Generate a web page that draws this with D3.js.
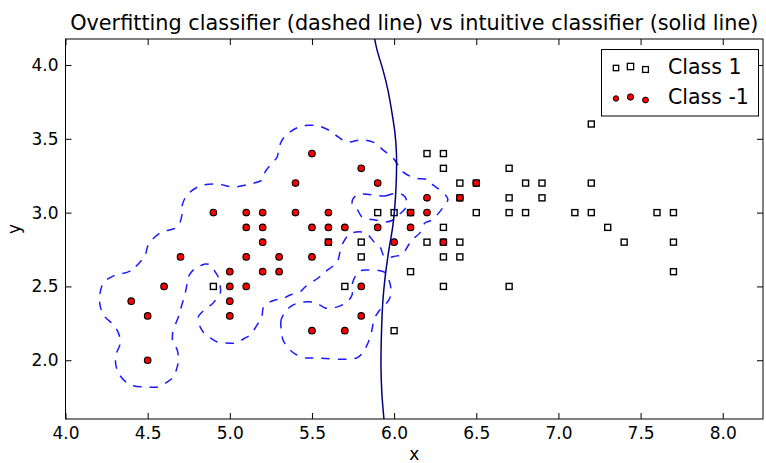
<!DOCTYPE html>
<html>
<head>
<meta charset="utf-8">
<script src="https://cdn.jsdelivr.net/npm/d3@7"></script>
<style>
  body { margin: 0; background: #fff; }
  svg { display: block; }
  text { font-family: "DejaVu Sans", sans-serif; fill: #000; }
</style>
</head>
<body>
<svg id="chart" width="766" height="463"></svg>
<script>
// Tick values
const xTicks = [4.0, 4.5, 5.0, 5.5, 6.0, 6.5, 7.0, 7.5, 8.0];
const yTicks = [2.0, 2.5, 3.0, 3.5, 4.0];

// Class 1 samples (sepal length, sepal width)
const class1 = [
  [7.2, 3.6],
  [6.2, 3.4], [6.3, 3.4],
  [6.3, 3.3], [6.7, 3.3],
  [6.4, 3.2], [6.5, 3.2], [6.8, 3.2], [6.9, 3.2], [7.2, 3.2],
  [6.4, 3.1], [6.7, 3.1], [6.9, 3.1],
  [5.9, 3.0], [6.0, 3.0], [6.1, 3.0], [6.5, 3.0], [6.7, 3.0], [6.8, 3.0],
  [7.1, 3.0], [7.2, 3.0], [7.6, 3.0], [7.7, 3.0],
  [6.3, 2.9], [7.3, 2.9],
  [5.6, 2.8], [5.8, 2.8], [6.2, 2.8], [6.3, 2.8], [6.4, 2.8], [7.4, 2.8], [7.7, 2.8],
  [5.8, 2.7], [6.3, 2.7], [6.4, 2.7],
  [6.1, 2.6], [7.7, 2.6],
  [4.9, 2.5], [5.7, 2.5], [6.3, 2.5], [6.7, 2.5],
  [6.0, 2.2]
];

// Class -1 samples
const classNeg1 = [
  [5.5, 3.4],
  [5.8, 3.3],
  [5.4, 3.2], [5.9, 3.2], [6.5, 3.2],
  [6.2, 3.1], [6.4, 3.1],
  [4.9, 3.0], [5.1, 3.0], [5.2, 3.0], [5.4, 3.0], [5.6, 3.0], [6.1, 3.0], [6.2, 3.0],
  [5.1, 2.9], [5.2, 2.9], [5.5, 2.9], [5.6, 2.9], [5.7, 2.9], [5.9, 2.9], [6.1, 2.9],
  [5.2, 2.8], [5.6, 2.8], [6.0, 2.8], [6.3, 2.8],
  [4.7, 2.7], [5.1, 2.7], [5.3, 2.7], [5.5, 2.7],
  [5.0, 2.6], [5.2, 2.6], [5.3, 2.6],
  [4.6, 2.5], [5.0, 2.5], [5.1, 2.5], [5.8, 2.5],
  [4.4, 2.4], [5.0, 2.4],
  [4.5, 2.3], [5.0, 2.3], [5.8, 2.3],
  [5.5, 2.2], [5.7, 2.2],
  [4.5, 2.0]
];

// Overfitting classifier: zero-level contour, main region outline
const overfitOuter = [
  [4.474, 2.693], [4.395, 2.605], [4.292, 2.571], [4.231, 2.524], [4.207, 2.408],
  [4.231, 2.306], [4.304, 2.225], [4.334, 2.124], [4.304, 2.022], [4.322, 1.914],
  [4.395, 1.833], [4.504, 1.819], [4.565, 1.819], [4.620, 1.853], [4.656, 1.887],
  [4.680, 1.955], [4.687, 2.002], [4.680, 2.070], [4.656, 2.117], [4.650, 2.157],
  [4.656, 2.205], [4.687, 2.293], [4.699, 2.340], [4.717, 2.408], [4.729, 2.456],
  [4.741, 2.524], [4.747, 2.564], [4.778, 2.612], [4.808, 2.632], [4.851, 2.652],
  [4.881, 2.645], [4.911, 2.598], [4.930, 2.564], [4.942, 2.496], [4.942, 2.456],
  [4.899, 2.388], [4.869, 2.361], [4.832, 2.327], [4.808, 2.293], [4.820, 2.225],
  [4.838, 2.191], [4.881, 2.151], [4.923, 2.124], [4.972, 2.117], [5.033, 2.117],
  [5.094, 2.151], [5.124, 2.171], [5.166, 2.239], [5.185, 2.273], [5.197, 2.306],
  [5.203, 2.354], [5.233, 2.388], [5.276, 2.408], [5.318, 2.415], [5.367, 2.442],
  [5.428, 2.463], [5.458, 2.496], [5.537, 2.557], [5.580, 2.598], [5.653, 2.666],
  [5.671, 2.734], [5.689, 2.795], [5.731, 2.856], [5.804, 2.869], [5.841, 2.849],
  [5.883, 2.795], [5.914, 2.767], [5.944, 2.700], [6.017, 2.707], [6.047, 2.713],
  [6.084, 2.774], [6.108, 2.815], [6.157, 2.863], [6.187, 2.930], [6.230, 2.950],
  [6.296, 3.032], [6.327, 3.086], [6.321, 3.107], [6.278, 3.154], [6.236, 3.188],
  [6.205, 3.222], [6.126, 3.235], [6.053, 3.276], [6.023, 3.323], [5.993, 3.371],
  [5.932, 3.425], [5.883, 3.472], [5.804, 3.493], [5.713, 3.479], [5.659, 3.513],
  [5.610, 3.554], [5.537, 3.587], [5.440, 3.587], [5.367, 3.547], [5.324, 3.500],
  [5.300, 3.445], [5.288, 3.377], [5.258, 3.337], [5.215, 3.276], [5.197, 3.222],
  [5.124, 3.194], [5.021, 3.174], [4.923, 3.194], [4.820, 3.181], [4.741, 3.120],
  [4.711, 3.052], [4.711, 2.998], [4.680, 2.903], [4.577, 2.863], [4.504, 2.781],
  [4.486, 2.713]
];

// Overfitting classifier: hole around two class 1 samples
const overfitHole = [
  [5.774, 3.120], [5.944, 3.113], [5.993, 3.127], [6.041, 3.127], [6.066, 3.107],
  [6.078, 3.066], [6.066, 3.025], [6.035, 2.991], [5.993, 2.950], [5.950, 2.937],
  [5.883, 2.950], [5.841, 2.957], [5.804, 2.971], [5.774, 3.025], [5.744, 3.066]
];

// Overfitting classifier: separate island in the lower middle
const overfitIsland = [
  [5.337, 2.327], [5.312, 2.273], [5.312, 2.218], [5.324, 2.137], [5.355, 2.083],
  [5.397, 2.043], [5.458, 2.016], [5.507, 2.016], [5.774, 2.016], [5.810, 2.056],
  [5.841, 2.117], [5.865, 2.205], [5.877, 2.273], [5.908, 2.334], [5.950, 2.381],
  [5.974, 2.422], [5.981, 2.476], [5.968, 2.544], [5.938, 2.598], [5.841, 2.612],
  [5.792, 2.605], [5.762, 2.564], [5.744, 2.510], [5.744, 2.442], [5.713, 2.395],
  [5.671, 2.368], [5.628, 2.354], [5.580, 2.354], [5.537, 2.381], [5.501, 2.395],
  [5.416, 2.388], [5.367, 2.361]
];

// Intuitive classifier: smooth boundary
const intuitiveBoundary = [
  [5.871, 4.238], [5.896, 4.102], [5.932, 3.967], [5.962, 3.831], [5.987, 3.675],
  [6.005, 3.540], [6.014, 3.404], [6.014, 3.255], [6.008, 3.100], [5.993, 2.917],
  [5.968, 2.747], [5.947, 2.578], [5.932, 2.408], [5.923, 2.185], [5.920, 1.955],
  [5.926, 1.765], [5.938, 1.602], [5.944, 1.527]
];

const legendLabels = ["Class 1", "Class -1"];

// ---- layout ----
const plotLeft = 65.5, plotRight = 763, plotTop = 39, plotBottom = 419;
const x = d3.scaleLinear().domain([4.0, 8.245]).range([plotLeft, plotRight]);
const y = d3.scaleLinear().domain([1.602, 4.176]).range([plotBottom, plotTop]);

const svg = d3.select("#chart");

svg.append("defs").append("clipPath").attr("id", "plotClip")
  .append("rect")
  .attr("x", plotLeft).attr("y", plotTop)
  .attr("width", plotRight - plotLeft).attr("height", plotBottom - plotTop);

// Title
svg.append("text")
  .attr("x", (plotLeft + plotRight) / 2)
  .attr("y", 30)
  .attr("text-anchor", "middle")
  .style("font-size", "20.8px")
  .text("Overfitting classifier (dashed line) vs intuitive classifier (solid line)");

const plot = svg.append("g").attr("clip-path", "url(#plotClip)");

// Class 1 markers: open squares
const sq = 6;
plot.append("g").selectAll("rect")
  .data(class1)
  .join("rect")
  .attr("x", d => x(d[0]) - sq / 2)
  .attr("y", d => y(d[1]) - sq / 2)
  .attr("width", sq).attr("height", sq)
  .attr("fill", "#fff")
  .attr("stroke", "#000")
  .attr("stroke-width", 1.4);

// Class -1 markers: red dots
plot.append("g").selectAll("circle")
  .data(classNeg1)
  .join("circle")
  .attr("cx", d => x(d[0]))
  .attr("cy", d => y(d[1]))
  .attr("r", 3.3)
  .attr("fill", "#ff0000")
  .attr("stroke", "#000")
  .attr("stroke-width", 1.1);

// Overfitting decision boundary (dashed)
const closedLine = d3.line()
  .x(d => x(d[0])).y(d => y(d[1]))
  .curve(d3.curveCatmullRomClosed.alpha(0.5));
[overfitOuter, overfitHole, overfitIsland].forEach(c => {
  plot.append("path")
    .attr("d", closedLine(c))
    .attr("fill", "none")
    .attr("stroke", "#1a1aff")
    .attr("stroke-width", 1.5)
    .attr("stroke-dasharray", "8.5,8");
});

// Intuitive decision boundary (solid)
plot.append("path")
  .attr("d", d3.line().x(d => x(d[0])).y(d => y(d[1]))
    .curve(d3.curveCatmullRom.alpha(0.5))(intuitiveBoundary))
  .attr("fill", "none")
  .attr("stroke", "#000080")
  .attr("stroke-width", 1.5);

// Axes: ticks pointing inward on all four sides
const tickLen = 6;
const styleAxis = g => {
  g.select(".domain").remove();
  g.selectAll(".tick line").attr("stroke", "#000").attr("stroke-width", 1);
  g.selectAll(".tick text").style("font-size", "17px").attr("fill", "#000");
};
svg.append("g").attr("transform", `translate(0,${plotBottom})`)
  .call(d3.axisBottom(x).tickValues(xTicks).tickFormat(d3.format(".1f"))
    .tickSize(-tickLen).tickPadding(8))
  .call(styleAxis);
svg.append("g").attr("transform", `translate(${plotLeft},0)`)
  .call(d3.axisLeft(y).tickValues(yTicks).tickFormat(d3.format(".1f"))
    .tickSize(-tickLen).tickPadding(7))
  .call(styleAxis);
svg.append("g").attr("transform", `translate(0,${plotTop})`)
  .call(d3.axisTop(x).tickValues(xTicks).tickFormat("").tickSize(-tickLen))
  .call(styleAxis);
svg.append("g").attr("transform", `translate(${plotRight},0)`)
  .call(d3.axisRight(y).tickValues(yTicks).tickFormat("").tickSize(-tickLen))
  .call(styleAxis);

// Frame
svg.append("rect")
  .attr("x", plotLeft).attr("y", plotTop)
  .attr("width", plotRight - plotLeft).attr("height", plotBottom - plotTop)
  .attr("fill", "none").attr("stroke", "#000").attr("stroke-width", 1);

// Axis labels
svg.append("text")
  .attr("x", (plotLeft + plotRight) / 2).attr("y", 460)
  .attr("text-anchor", "middle")
  .style("font-size", "17px")
  .text("x");
svg.append("text")
  .attr("transform", `translate(20,${(plotTop + plotBottom) / 2}) rotate(-90)`)
  .attr("text-anchor", "middle")
  .style("font-size", "17px")
  .text("y");

// Legend
const lg = svg.append("g");
lg.append("rect")
  .attr("x", 601.5).attr("y", 49.5).attr("width", 157).attr("height", 66.5)
  .attr("fill", "#fff").attr("stroke", "#000").attr("stroke-width", 1);
const lgX = [616, 630.5, 645.5];
const lgDy = [1, -0.5, 2.5];
const lgScale = [0.9, 1.05, 0.97];
lgX.forEach((px, i) => {
  const s = 6 * lgScale[i];
  lg.append("rect")
    .attr("x", px - s / 2).attr("y", 67 + lgDy[i] - s / 2)
    .attr("width", s).attr("height", s)
    .attr("fill", "#fff").attr("stroke", "#000").attr("stroke-width", 1.3);
  lg.append("circle")
    .attr("cx", px).attr("cy", 97.5 + lgDy[i])
    .attr("r", 3 * lgScale[i])
    .attr("fill", "#ff0000").attr("stroke", "#000").attr("stroke-width", 1);
});
legendLabels.forEach((t, i) => {
  lg.append("text")
    .attr("x", 668).attr("y", 73.5 + i * 30)
    .style("font-size", "20.5px")
    .text(t);
});
</script>
</body>
</html>
